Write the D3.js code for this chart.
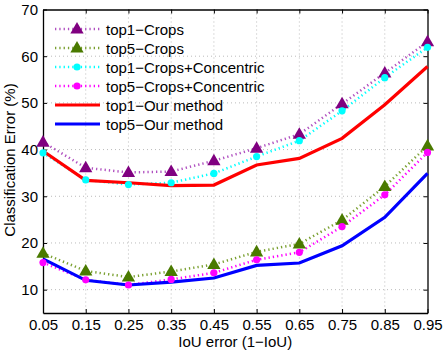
<!DOCTYPE html>
<html><head><meta charset="utf-8">
<script src="https://cdn.jsdelivr.net/npm/d3@7"></script>
<style>body{margin:0;background:#fff}svg{display:block}text{font-family:"Liberation Sans",Arial,sans-serif}</style>
</head><body><svg id="c" width="447" height="355"></svg>
<script>
const xValues = [0.05,0.15,0.25,0.35,0.45,0.55,0.65,0.75,0.85,0.95];
const yTicks = [10,20,30,40,50,60,70];
const top1Crops = [41.6,36.1,35.1,35.3,37.6,40.3,43.3,49.8,56.4,63.1];
const top5Crops = [17.8,14.0,12.7,13.9,15.4,18.1,19.8,24.9,32.1,40.8];
const top1CropsConc = [39.3,33.5,32.5,32.9,34.9,38.5,41.9,48.3,55.4,61.9];
const top5CropsConc = [15.8,12.1,11.0,12.2,13.6,16.4,18.0,23.5,30.3,39.4];
const top1Ours = [39.7,33.4,32.9,32.3,32.4,36.7,38.1,42.4,49.6,57.8];
const top5Ours = [16.6,12.0,11.0,11.6,12.5,15.2,15.7,19.4,25.5,34.9];
const seriesNames = ["top1\u2212Crops","top5\u2212Crops","top1\u2212Crops+Concentric","top5\u2212Crops+Concentric","top1\u2212Our method","top5\u2212Our method"];

const series = [
 {name:seriesNames[0], data:top1Crops, line:"#b050c0", marker:"tri", mcol:"#800080", dotted:true},
 {name:seriesNames[1], data:top5Crops, line:"#7aa030", marker:"tri", mcol:"#4a7a00", dotted:true},
 {name:seriesNames[2], data:top1CropsConc, line:"#00ffff", marker:"dot", mcol:"#00ffff", dotted:true},
 {name:seriesNames[3], data:top5CropsConc, line:"#ff00ff", marker:"dot", mcol:"#ff00ff", dotted:true},
 {name:seriesNames[4], data:top1Ours, line:"#ff0000", marker:null, dotted:false},
 {name:seriesNames[5], data:top5Ours, line:"#0000ff", marker:null, dotted:false}
];

const svg = d3.select("#c");
const L=43,R=427.5,T=9.5,B=313;
const x = d3.scaleLinear().domain([0.05,0.95]).range([L,R]);
const y = d3.scaleLinear().domain([5,70]).range([B,T]);

// grid
const g = svg.append("g");
g.selectAll(".vg").data(xValues.slice(1,-1)).enter().append("line")
 .attr("x1",d=>x(d)).attr("x2",d=>x(d)).attr("y1",T).attr("y2",B)
 .attr("stroke","#bbb").attr("stroke-width",1).attr("stroke-dasharray","1,3");
g.selectAll(".hg").data(yTicks.slice(0,-1)).enter().append("line")
 .attr("x1",L).attr("x2",R).attr("y1",d=>y(d)).attr("y2",d=>y(d))
 .attr("stroke","#bbb").attr("stroke-width",1).attr("stroke-dasharray","1,3");

// axes
const xAxis = d3.axisBottom(x).tickValues(xValues).tickFormat(d3.format(".2f")).tickSizeInner(-4).tickSizeOuter(0).tickPadding(6);
const yAxis = d3.axisLeft(y).tickValues(yTicks).tickFormat(d3.format("d")).tickSizeInner(-4).tickSizeOuter(0).tickPadding(5);
const gx = svg.append("g").attr("transform",`translate(0,${B})`).call(xAxis);
const gy = svg.append("g").attr("transform",`translate(${L},0)`).call(yAxis);
const gx2 = svg.append("g").attr("transform",`translate(0,${T})`).call(d3.axisTop(x).tickValues(xValues).tickFormat("").tickSizeInner(-4).tickSizeOuter(0));
const gy2 = svg.append("g").attr("transform",`translate(${R},0)`).call(d3.axisRight(y).tickValues(yTicks).tickFormat("").tickSizeInner(-4).tickSizeOuter(0));
[gx,gy,gx2,gy2].forEach(a=>{a.select(".domain").attr("stroke","#000").attr("stroke-width",1.3);a.selectAll(".tick line").attr("stroke","#000");a.selectAll("text").attr("font-size",15).attr("fill","#000").style("font-family","Liberation Sans, Arial, sans-serif");});

// lines
const line = d3.line().x((d,i)=>x(xValues[i])).y(d=>y(d));
function tri(cx,cy,s){return `M${cx},${cy-s}L${cx+s*0.95},${cy+s*0.65}L${cx-s*0.95},${cy+s*0.65}Z`;}
series.forEach(s=>{
  svg.append("path").datum(s.data).attr("d",line).attr("fill","none")
   .attr("stroke",s.line).attr("stroke-width",s.dotted?2.5:3.2)
   .attr("stroke-dasharray",s.dotted?"1.3,3":null);
});
series.forEach(s=>{
  if(!s.marker) return;
  s.data.forEach((v,i)=>{
    if(s.marker==="tri") svg.append("path").attr("d",tri(x(xValues[i]),y(v),7)).attr("fill",s.mcol);
    else svg.append("circle").attr("cx",x(xValues[i])).attr("cy",y(v)).attr("r",3.6).attr("fill",s.mcol);
  });
});

// legend
const ly0=29, ldy=19;
series.forEach((s,i)=>{
  const yy=ly0+i*ldy;
  svg.append("line").attr("x1",55).attr("x2",100).attr("y1",yy).attr("y2",yy)
   .attr("stroke",s.line).attr("stroke-width",s.dotted?2.5:3.2).attr("stroke-dasharray",s.dotted?"1.3,3":null);
  if(s.marker==="tri") svg.append("path").attr("d",tri(77,yy,7)).attr("fill",s.mcol);
  else if(s.marker==="dot") svg.append("circle").attr("cx",77).attr("cy",yy).attr("r",3.6).attr("fill",s.mcol);
  svg.append("text").attr("x",106).attr("y",yy+5.5).attr("font-size",15).attr("fill","#000").text(s.name);
});

// axis labels
svg.append("text").attr("x",(L+R)/2).attr("y",347).attr("text-anchor","middle").attr("font-size",15).text("IoU error (1\u2212IoU)");
svg.append("text").attr("transform",`translate(15,160) rotate(-90)`).attr("text-anchor","middle").attr("font-size",15).text("Classification Error (%)");
</script></body></html>
